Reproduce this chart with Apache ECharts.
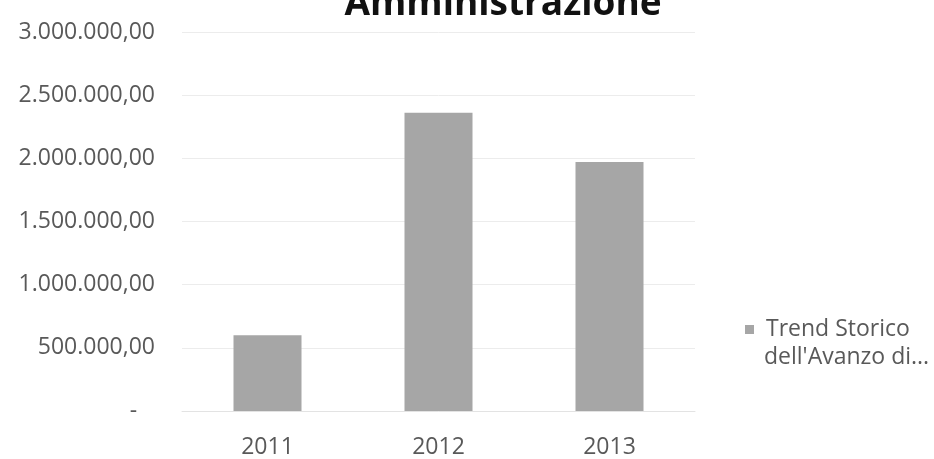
<!DOCTYPE html>
<html>
<head>
<meta charset="utf-8">
<style>
  html, body { margin: 0; padding: 0; background: #ffffff; }
  #chart { width: 934px; height: 459px; }
</style>
<script src="https://cdn.jsdelivr.net/npm/echarts@6/dist/echarts.min.js"></script>
</head>
<body>
<div id="chart"></div>
<script>
// Fiscal years and the recorded surplus for each
const years = ['2011', '2012', '2013'];
const avanzo = [600000, 2360000, 1970000];
const seriesName = "Trend Storico dell'Avanzo di Amministrazione";
const titleText = 'Amministrazione';
const legendLine1 = 'Trend Storico';
const legendLine2 = "dell'Avanzo di...";

// Italian number format with two decimals, accounting dash for zero
function formatEuro(v) {
  if (v === 0) return '-   ';
  const parts = v.toFixed(2).split('.');
  const intPart = parts[0].replace(/\B(?=(\d{3})+(?!\d))/g, '.');
  return intPart + ',' + parts[1];
}

const labelFont = '"Open Sans", "Noto Sans", sans-serif';
const textColor = '#595959';
const chart = echarts.init(document.getElementById('chart'), null, { renderer: 'canvas' });

chart.setOption({
  backgroundColor: '#ffffff',
  animation: false,
  grid: { left: 182, right: 239, top: 32, bottom: 48, containLabel: false },
  xAxis: {
    type: 'category',
    data: years,
    axisLine: { show: true, lineStyle: { color: '#e3e3e3', width: 1 } },
    axisTick: { show: false },
    axisLabel: { color: textColor, fontFamily: labelFont, fontSize: 23, margin: 25 }
  },
  yAxis: {
    type: 'value',
    min: 0,
    max: 3000000,
    interval: 500000,
    axisLine: { show: false },
    axisTick: { show: false },
    splitLine: { lineStyle: { color: '#ececec', width: 1 } },
    axisLabel: {
      color: textColor, fontFamily: labelFont, fontSize: 23, margin: 27,
      formatter: formatEuro
    }
  },
  legend: {
    show: true,
    orient: 'vertical',
    left: 740,
    top: 313,
    itemWidth: 9,
    itemHeight: 9,
    icon: 'rect',
    formatter: function () { return legendLine1; },
    textStyle: { color: textColor, fontFamily: labelFont, fontSize: 23, padding: [0, 0, 0, 7] },
    data: [seriesName]
  },
  graphic: [
    {
      type: 'text',
      left: 764,
      top: 346,
      style: { text: legendLine2, fill: textColor, font: '23px "Open Sans", "Noto Sans", sans-serif' }
    },
    {
      type: 'text',
      x: 503,
      y: 4,
      style: {
        text: titleText,
        fill: '#111111',
        align: 'center',
        verticalAlign: 'middle',
        font: 'bold 37px "Open Sans", "Noto Sans", sans-serif'
      }
    }
  ],
  series: [{
    name: seriesName,
    type: 'bar',
    data: avanzo,
    barWidth: 68,
    itemStyle: { color: '#a6a6a6' }
  }]
});
</script>
</body>
</html>
